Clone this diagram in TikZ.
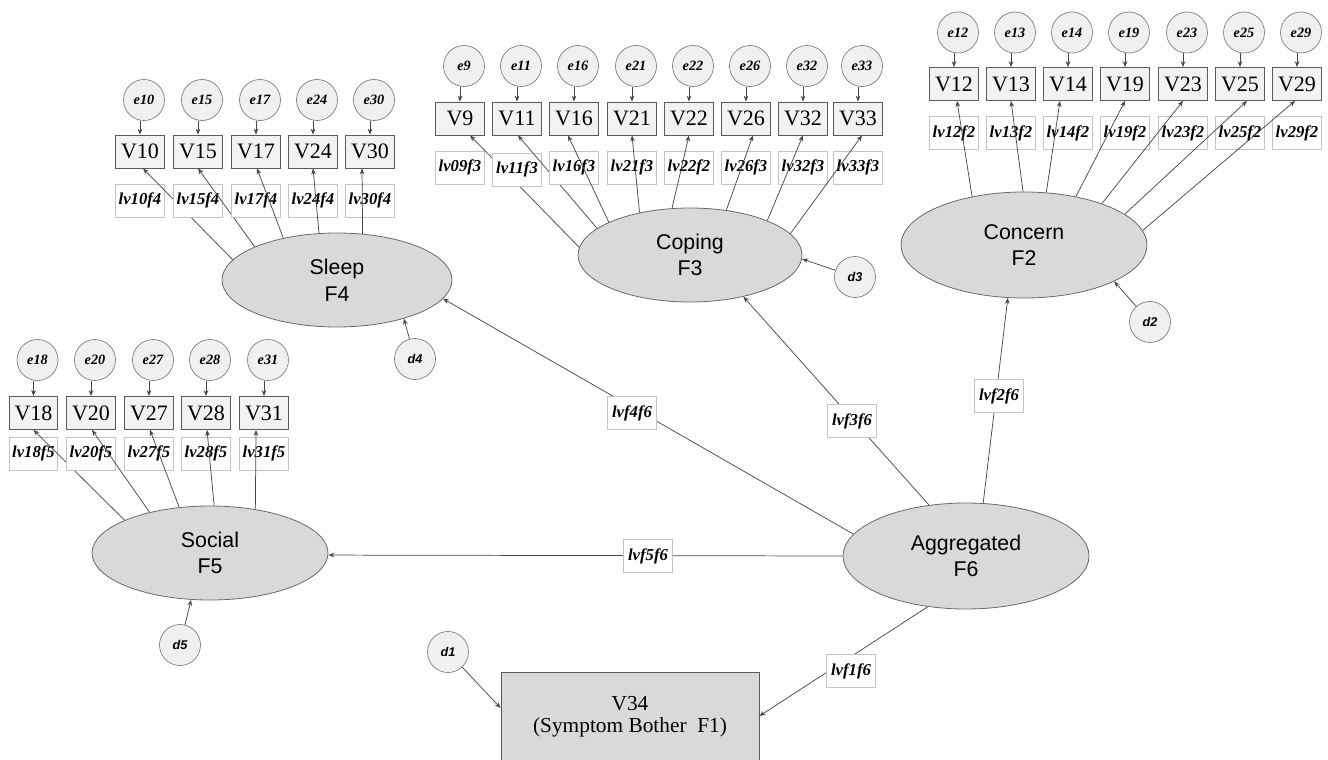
\documentclass[tikz,border=0pt]{standalone}
\usepackage{fontspec}
\setmainfont{Liberation Serif}
\setsansfont{Liberation Sans}
\usetikzlibrary{shapes.geometric,arrows.meta}
\definecolor{circfill}{HTML}{F0F0F0}
\definecolor{circline}{HTML}{7A7A7A}
\definecolor{vfill}{HTML}{F2F2F2}
\definecolor{vline}{HTML}{5A5A5A}
\definecolor{lline}{HTML}{C4C4C4}
\definecolor{latfill}{HTML}{D9D9D9}
\definecolor{latline}{HTML}{6A6A6A}
\definecolor{connc}{HTML}{474747}
\begin{document}
\begin{tikzpicture}[x=0.75pt,y=-0.75pt,
  ecirc/.style={circle, draw=circline, fill=circfill, line width=0.5pt, minimum size=30.75pt, inner sep=0pt, font=\fontsize{10.7}{12}\selectfont\bfseries\itshape},
  dcirc/.style={ecirc, font=\fontsize{9.5}{11}\selectfont\sffamily\bfseries\itshape},
  vbox/.style={rectangle, draw=vline, fill=vfill, line width=0.6pt, minimum width=36.4pt, minimum height=24.75pt, inner sep=0pt, font=\fontsize{16.5}{18}\selectfont},
  lbox/.style={rectangle, draw=lline, fill=white, line width=0.5pt, minimum width=36.4pt, minimum height=24.75pt, inner sep=0pt, font=\fontsize{12.5}{14}\selectfont\bfseries\itshape},
  latent/.style={ellipse, draw=latline, fill=latfill, line width=0.6pt, inner sep=0pt, align=center, font=\fontsize{16}{20}\selectfont\sffamily},
  conn/.style={draw=connc, line width=0.55pt, -{Stealth[length=4.5pt,width=3.5pt]}}
]
\useasboundingbox (0,0) rectangle (1328,760);

% latent variables
\node[latent, minimum width=172.5pt, minimum height=70.5pt] (sleep) at (337,280) {Sleep\\F4};
\node[latent, minimum width=168pt, minimum height=70.5pt] (coping) at (690,255) {Coping\\F3};
\node[latent, minimum width=184.5pt, minimum height=79.5pt] (concern) at (1024,245) {Concern\\F2};
\node[latent, minimum width=177pt, minimum height=70.5pt] (social) at (210,553) {Social\\F5};
\node[latent, minimum width=184.5pt, minimum height=79.5pt] (agg) at (966,556) {Aggregated\\F6};
\node[rectangle, draw=vline, fill=latfill, line width=0.6pt, minimum width=193.5pt, minimum height=67.5pt, align=center, font=\fontsize{16}{16.5}\selectfont] (V34) at (630,717) {V34\\(Symptom Bother\ \ F1)};

% Sleep cluster
\foreach \n/\x/\a/\s in {10/140/169.2/2.25, 15/198/158.6/0, 17/256/142.6/0.75, 24/313/111/0, 30/370/61.5/-6}{
  \node[ecirc] (e\n) at (\x+4,100) {e\n};
  \node[vbox] (V\n) at (\x,151.5) {V\n};
  \node[lbox] (l\n) at (\x,200.5) {lv\n f4};
  \draw[conn] (e\n.south -| V\n.north) -- (V\n.north);
  \draw[conn] (sleep.\a) -- ([xshift=\s pt]V\n.south);
}

% Coping cluster
\foreach \n/\x/\a/\s/\t/\ly in {9/460/176.4/7.5/lv09f3/167.5, 11/517/164.4/0.75/lv11f3/169.5, 16/574/158.2/-4.5/lv16f3/167.5, 21/632/140.6/0/lv21f3/167.5, 22/689/111.8/0/lv22f2/167.5, 26/746/51.7/5.25/lv26f3/167.5, 32/803/24.4/0/lv32f3/167.5, 33/858/12.7/3/lv33f3/167.5}{
  \node[ecirc] (e\n) at (\x+4,66) {e\n};
  \node[vbox] (V\n) at (\x,118.5) {V\n};
  \node[lbox] (l\n) at (\x,\ly) {\t};
  \draw[conn] (e\n.south -| V\n.north) -- (V\n.north);
  \draw[conn] (coping.\a) -- ([xshift=\s pt]V\n.south);
}

% Concern cluster
\foreach \n/\x/\a/\s in {12/954/137.7/2.25, 13/1011/91/0, 14/1068/67/-6, 19/1125/43.3/0, 23/1183/28/0, 25/1240/17.4/5.25, 29/1297/7.7/-1.5}{
  \node[ecirc] (e\n) at (\x+4,32.5) {e\n};
  \node[vbox] (V\n) at (\x,84) {V\n};
  \node[lbox] (l\n) at (\x,133) {lv\n f2};
  \draw[conn] (e\n.south -| V\n.north) -- (V\n.north);
  \draw[conn] (concern.\a) -- ([xshift=\s pt]V\n.south);
}

% Social cluster
\foreach \n/\x/\a/\s in {18/33.5/159.7/0, 20/91/146.5/0.75, 27/149/124.8/0.75, 28/206/85/0.75, 31/264/44.4/-6}{
  \node[ecirc] (e\n) at (\x+4,360) {e\n};
  \node[vbox] (V\n) at (\x,413) {V\n};
  \node[lbox] (l\n) at (\x,453.5) {lv\n f5};
  \draw[conn] (e\n.south -| V\n.north) -- (V\n.north);
  \draw[conn] (social.\a) -- ([xshift=\s pt]V\n.south);
}

% disturbances
\node[dcirc] (d1) at (448,652) {d1};
\node[dcirc] (d2) at (1150,322) {d2};
\node[dcirc] (d3) at (855,277) {d3};
\node[dcirc] (d4) at (415,359) {d4};
\node[dcirc] (d5) at (180,645) {d5};
\draw[conn] (d1) -- ([yshift=6.75pt]V34.west);
\draw[conn] (d2) -- (concern.-22.7);
\draw[conn] (d3) -- (coping.-2.5);
\draw[conn] (d4) -- (sleep.-30.2);
\draw[conn] (d5) -- (social.-112.6);

% structural paths
\draw[conn] (agg.169.7) -- (sleep.-10.5);
\draw[conn] (agg.126.3) -- (coping.-38);
\draw[conn] (agg.72.2) -- (concern.-107.2);
\draw[conn] (agg.180) -- (social.-1.5);
\draw[conn] (agg.-127.7) -- ([yshift=0.75pt]V34.east);
\node[lbox] (lf4) at (632,413) {lvf4f6};
\node[lbox] (lf3) at (852,421) {lvf3f6};
\node[lbox] (lf2) at (999,396) {lvf2f6};
\node[lbox] (lf5) at (648,556) {lvf5f6};
\node[lbox] (lf1) at (851,671) {lvf1f6};
\end{tikzpicture}
\end{document}
